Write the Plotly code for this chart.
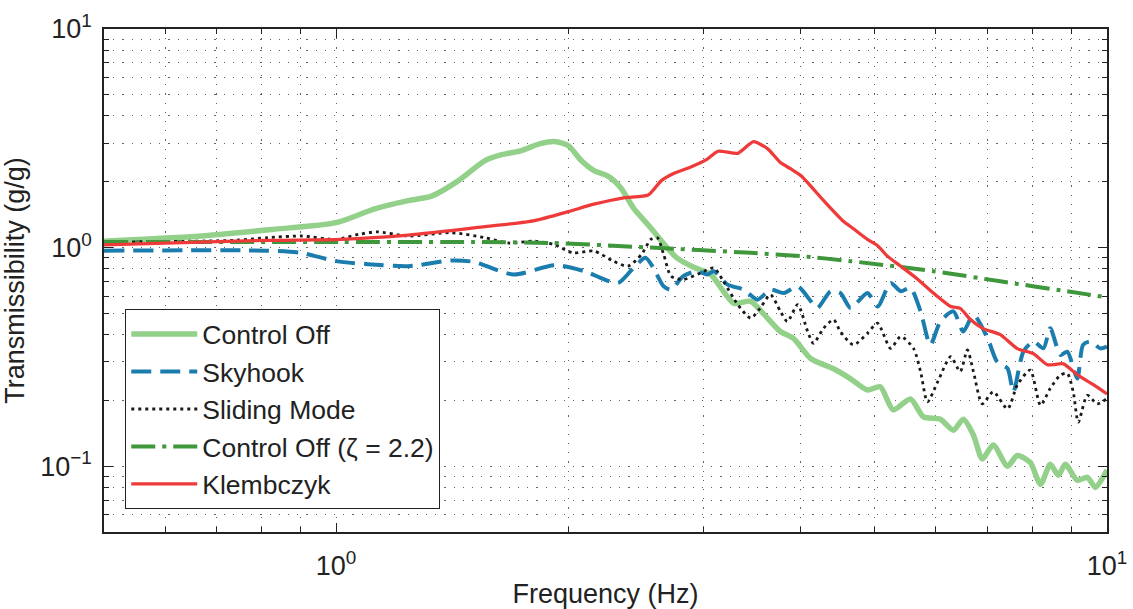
import plotly.graph_objects as go

# ---------------- data ----------------
co_f = [0.50, 0.668, 0.824, 1.00, 1.12, 1.24, 1.33, 1.44, 1.56, 1.64, 1.74, 1.84, 1.92, 2.00, 2.08,
        2.16, 2.25, 2.34, 2.43, 2.56, 2.69, 2.77, 2.91, 3.06, 3.18, 3.28, 3.45, 3.59, 3.77, 3.92,
        4.13, 4.42, 4.65, 4.89, 5.08, 5.28, 5.56, 5.78, 6.08, 6.32, 6.51, 6.71, 6.89, 7.12, 7.43,
        7.65, 7.95, 8.20, 8.44, 8.65, 8.83, 9.15, 9.43, 9.66, 10.0]
co_t = [1.07, 1.13, 1.21, 1.30, 1.50, 1.64, 1.72, 2.02, 2.50, 2.66, 2.78, 2.99, 3.06, 2.93, 2.50,
        2.25, 2.13, 1.88, 1.52, 1.23, 0.995, 0.895, 0.813, 0.755, 0.631, 0.556, 0.568, 0.495, 0.413, 0.384,
        0.310, 0.279, 0.251, 0.223, 0.231, 0.181, 0.203, 0.168, 0.164, 0.146, 0.164, 0.139, 0.108, 0.125, 0.100,
        0.112, 0.104, 0.0826, 0.102, 0.091, 0.102, 0.0863, 0.089, 0.080, 0.096]

sky_f = [0.50, 0.816, 0.901, 1.00, 1.10, 1.24, 1.41, 1.51, 1.70, 1.92, 2.10, 2.32, 2.43, 2.52, 2.58,
         2.66, 2.72, 2.82, 2.94, 3.03, 3.09, 3.22, 3.38, 3.52, 3.66, 3.81, 3.97, 4.13, 4.21, 4.38,
         4.51, 4.65, 4.89, 5.04, 5.24, 5.40, 5.56, 5.73, 5.90, 6.08, 6.32, 6.51, 6.71, 7.00, 7.20,
         7.43, 7.56, 7.79, 8.03, 8.27, 8.44, 8.70, 8.88, 9.15, 9.31, 9.51, 9.80, 10.0]
sky_t = [0.968, 0.968, 0.946, 0.867, 0.840, 0.822, 0.873, 0.860, 0.753, 0.831, 0.780, 0.689, 0.807, 0.898, 0.807,
         0.665, 0.642, 0.740, 0.780, 0.753, 0.780, 0.677, 0.642, 0.578, 0.642, 0.620, 0.665, 0.568, 0.529, 0.631,
         0.620, 0.529, 0.620, 0.538, 0.689, 0.631, 0.654, 0.511, 0.359, 0.459, 0.511, 0.413, 0.493, 0.385, 0.301,
         0.280, 0.219, 0.334, 0.372, 0.346, 0.428, 0.323, 0.334, 0.252, 0.359, 0.372, 0.346, 0.352]

sm_f = [0.50, 0.738, 0.816, 0.901, 1.00, 1.07, 1.13, 1.24, 1.41, 1.56, 1.67, 1.81, 1.92, 2.03, 2.16,
        2.29, 2.39, 2.49, 2.56, 2.61, 2.66, 2.72, 2.82, 2.97, 3.09, 3.18, 3.32, 3.45, 3.55, 3.66,
        3.77, 3.85, 3.97, 4.09, 4.16, 4.29, 4.42, 4.51, 4.69, 4.89, 5.04, 5.24, 5.40, 5.61, 5.73,
        5.85, 6.03, 6.27, 6.45, 6.59, 6.71, 6.89, 7.12, 7.43, 7.65, 7.95, 8.20, 8.44, 8.70, 8.88,
        9.04, 9.18, 9.43, 9.71, 10.0]
sm_t = [1.06, 1.08, 1.11, 1.13, 1.09, 1.15, 1.18, 1.13, 1.17, 1.11, 1.05, 1.07, 1.03, 0.946, 0.964,
        0.867, 0.822, 0.931, 1.09, 1.11, 0.931, 0.740, 0.714, 0.766, 0.807, 0.701, 0.548, 0.476, 0.529, 0.609,
        0.511, 0.459, 0.548, 0.413, 0.365, 0.428, 0.468, 0.413, 0.359, 0.406, 0.451, 0.346, 0.392, 0.346, 0.271,
        0.197, 0.243, 0.317, 0.271, 0.340, 0.271, 0.193, 0.219, 0.183, 0.235, 0.275, 0.190, 0.227, 0.261, 0.266,
        0.219, 0.159, 0.211, 0.193, 0.204]

cz_f = [0.50, 1.015, 1.51, 1.90, 2.56, 3.45, 4.01, 4.65, 5.96, 7.27, 8.88, 10.0]
cz_t = [1.06, 1.06, 1.06, 1.05, 1.00, 0.946, 0.914, 0.867, 0.780, 0.701, 0.631, 0.592]

kl_f = [0.50, 0.668, 0.824, 1.015, 1.24, 1.51, 1.81, 2.00, 2.16, 2.36, 2.54, 2.64, 2.74, 2.88, 3.03,
        3.13, 3.32, 3.48, 3.63, 3.77, 3.89, 4.01, 4.29, 4.55, 4.69, 4.89, 5.04, 5.19, 5.40, 5.68,
        5.96, 6.27, 6.45, 6.65, 6.91, 7.27, 7.65, 8.03, 8.37, 8.78, 9.15, 9.60, 10.0]
kl_t = [1.03, 1.06, 1.08, 1.09, 1.14, 1.23, 1.33, 1.46, 1.58, 1.69, 1.74, 2.02, 2.18, 2.33, 2.54,
        2.76, 2.70, 3.05, 2.83, 2.45, 2.29, 2.13, 1.64, 1.32, 1.22, 1.09, 1.02, 0.914, 0.822, 0.717,
        0.618, 0.538, 0.527, 0.469, 0.426, 0.400, 0.345, 0.327, 0.291, 0.294, 0.262, 0.236, 0.214]

names = ["Control Off", "Skyhook", "Sliding Mode", "Control Off (\u03b6 = 2.2)", "Klembczyk"]

x_major = [1, 10]
x_major_text = ["10<sup>0</sup>", "10<sup>1</sup>"]
x_minor = [0.5, 0.6, 0.7, 0.8, 0.9, 2, 3, 4, 5, 6, 7, 8, 9]
y_major = [0.1, 1, 10]
y_major_text = ["10<sup>\u22121</sup>", "10<sup>0</sup>", "10<sup>1</sup>"]
y_minor = [0.05, 0.06, 0.07, 0.08, 0.09, 0.2, 0.3, 0.4, 0.5, 0.6, 0.7, 0.8, 0.9,
           2, 3, 4, 5, 6, 7, 8, 9]

# ---------------- figure ----------------
fig = go.Figure()
fig.add_trace(go.Scatter(x=co_f, y=co_t, mode="lines", name=names[0],
                         line=dict(color="#93D18B", width=5.5, shape="spline", smoothing=0.7)))
fig.add_trace(go.Scatter(x=sky_f, y=sky_t, mode="lines", name=names[1],
                         line=dict(color="#1B7DAE", width=4, dash="20px,9px", shape="spline", smoothing=0.7)))
fig.add_trace(go.Scatter(x=sm_f, y=sm_t, mode="lines", name=names[2],
                         line=dict(color="#1a1a1a", width=2.8, dash="3px,4px", shape="spline", smoothing=0.7)))
fig.add_trace(go.Scatter(x=cz_f, y=cz_t, mode="lines", name=names[3],
                         line=dict(color="#3F973B", width=4, dash="24px,7px,4px,7px", shape="spline", smoothing=0.7)))
fig.add_trace(go.Scatter(x=kl_f, y=kl_t, mode="lines", name=names[4],
                         line=dict(color="#EF3A3A", width=3.3, shape="spline", smoothing=0.6)))

font_family = "Liberation Sans, Arial, Helvetica, sans-serif"
grid_col = "rgba(70,70,70,0.85)"
grid_dash = "1.2px,8px"

axis_common = dict(
    type="log",
    showline=True, linecolor="#222", linewidth=1.5, mirror="allticks",
    ticks="inside", ticklen=9, tickwidth=1, tickcolor="#222",
    showgrid=True, gridcolor=grid_col, griddash=grid_dash, gridwidth=1.2,
    zeroline=False,
    ticklabeloverflow="allow",
    tickfont=dict(family=font_family, size=27, color="#222"),
)

fig.update_xaxes(
    **axis_common,
    range=[0.69897 - 1, 1],
    tickmode="array", tickvals=x_major, ticktext=x_major_text,
    ticklabelstandoff=9,
    minor=dict(tickmode="array", tickvals=x_minor, ticks="inside", ticklen=5, tickcolor="#222",
               showgrid=True, gridcolor=grid_col, griddash=grid_dash, gridwidth=1.2),
    title=dict(text="Frequency (Hz)", font=dict(family=font_family, size=27, color="#222"), standoff=17),
)
fig.update_yaxes(
    **axis_common,
    range=[0.69897 - 2, 1],
    tickmode="array", tickvals=y_major, ticktext=y_major_text,
    ticklabelstandoff=5,
    minor=dict(tickmode="array", tickvals=y_minor, ticks="inside", ticklen=5, tickcolor="#222",
               showgrid=True, gridcolor=grid_col, griddash=grid_dash, gridwidth=1.2),
    title=dict(text="Transmissibility (g/g)", font=dict(family=font_family, size=27, color="#222"), standoff=20),
)

fig.update_layout(
    width=1133, height=609,
    margin=dict(l=104, r=26, t=29, b=77, autoexpand=False),
    paper_bgcolor="white", plot_bgcolor="white",
    font=dict(family=font_family, size=27, color="#222"),
    showlegend=True,
    legend=dict(
        x=0.021, y=0.443, xanchor="left", yanchor="top",
        bgcolor="white", bordercolor="#222", borderwidth=1.2,
        font=dict(family=font_family, size=26.5, color="#222"),
        itemwidth=66, tracegroupgap=0,
    ),
)

# remove the page's default 8px body margin so the figure fills the window exactly
fig.write_html("out.html", config={"displayModeBar": False},
               post_script="document.body.style.margin='0px';")
